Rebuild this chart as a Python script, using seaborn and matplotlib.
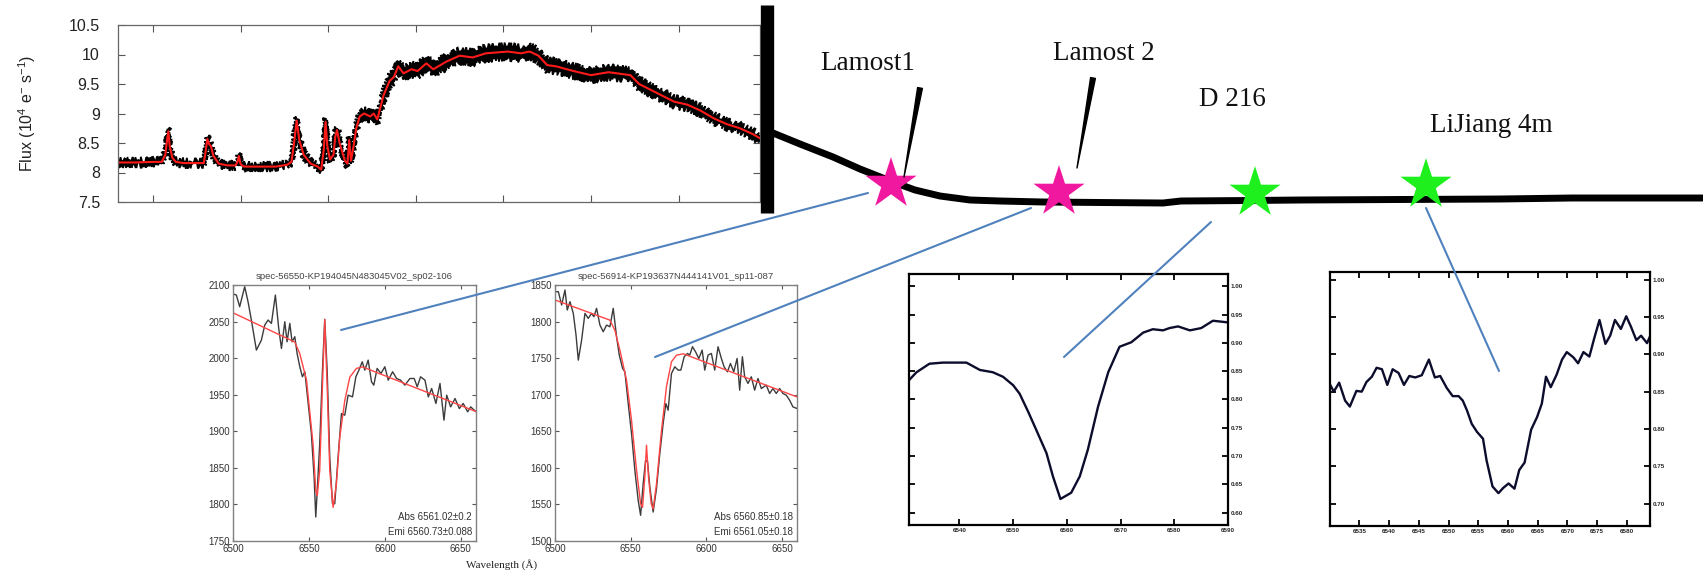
import numpy as np
import pandas as pd
import matplotlib
matplotlib.use("Agg")
import matplotlib.pyplot as plt
import seaborn as sns

# ---------------------------------------------------------------- data
# Light curve (time in days, flux in 1e4 e-/s)
lc_time = [0.00, 0.20, 0.40, 0.50, 0.54, 0.56, 0.575, 0.59, 0.62, 0.66, 0.75, 0.90, 0.98, 1.00, 1.02,
           1.04, 1.06, 1.09, 1.15, 1.25, 1.34, 1.365, 1.38, 1.40, 1.44, 1.60, 1.80, 1.93, 1.98, 2.01,
           2.04, 2.07, 2.12, 2.20, 2.28, 2.32, 2.35, 2.37, 2.39, 2.42, 2.46, 2.48, 2.50, 2.53, 2.56,
           2.59, 2.62, 2.64, 2.66, 2.69, 2.72, 2.76, 2.81, 2.88, 2.92, 2.96, 3.03, 3.10, 3.15, 3.20,
           3.26, 3.35, 3.42, 3.52, 3.60, 3.75, 3.90, 4.05, 4.20, 4.45, 4.60, 4.70, 4.80, 4.90, 5.00,
           5.20, 5.40, 5.60, 5.85, 5.95, 6.15, 6.35, 6.50, 6.65, 6.80, 6.95, 7.10, 7.25, 7.33]
lc_flux = [8.17, 8.17, 8.18, 8.18, 8.30, 8.55, 8.70, 8.45, 8.25, 8.18, 8.16, 8.16, 8.16, 8.35, 8.57,
           8.48, 8.45, 8.28, 8.15, 8.12, 8.12, 8.18, 8.28, 8.14, 8.10, 8.10, 8.10, 8.13, 8.18, 8.50,
           8.88, 8.55, 8.30, 8.15, 8.10, 8.05, 8.40, 8.86, 8.45, 8.22, 8.30, 8.60, 8.72, 8.50, 8.35,
           8.20, 8.15, 8.55, 8.20, 8.45, 8.75, 8.95, 9.00, 8.95, 9.00, 8.90, 9.30, 9.55, 9.62, 9.80,
           9.68, 9.75, 9.72, 9.85, 9.75, 9.88, 9.98, 9.95, 10.02, 10.05, 10.02, 10.05, 9.98, 9.82, 9.80,
           9.72, 9.65, 9.70, 9.65, 9.50, 9.35, 9.20, 9.15, 9.05, 8.92, 8.82, 8.75, 8.65, 8.58]
lc_xticks = [0.4, 1.4, 2.4, 3.4, 4.4, 5.4, 6.4]
lc_yticks = [7.5, 8, 8.5, 9, 9.5, 10, 10.5]
lc_yticklabels = ["7.5", "8", "8.5", "9", "9.5", "10", "10.5"]

# LAMOST spectrum 1: observed and two-component (Abs + Emi) fit
l1_wl = [6500, 6502.2, 6504.4, 6507.7, 6509.9, 6512.1, 6515.4, 6518.7, 6520.9, 6523.1, 6525.3, 6527.9,
         6530.1, 6531.9, 6534.1, 6535.6, 6537.4, 6538.9, 6540.7, 6542.2, 6544.0, 6545.7, 6547.3, 6549.5,
         6551.6, 6553.4, 6554.5, 6555.6, 6557.1, 6558.9, 6560.4, 6562.0, 6563.7, 6565.5, 6567.0, 6569.2,
         6571.4, 6573.6, 6575.8, 6578.7, 6580.9, 6582.9, 6585.1, 6586.8, 6589.0, 6591.2, 6592.7, 6594.9,
         6597.4, 6600.0, 6602.2, 6605.1, 6607.7, 6610.3, 6613.2, 6616.5, 6619.3, 6621.3, 6623.5, 6626.4,
         6628.6, 6630.8, 6633.6, 6636.3, 6638.9, 6640.7, 6643.3, 6646.2, 6649.0, 6651.6, 6654.5, 6656.5,
         6660]
l1_fl = [2087.7, 2086.3, 2070.3, 2097.7, 2077.2, 2052.1, 2011.0, 2024.7, 2045.2, 2052.1, 2047.5, 2086.3,
         2040.7, 2013.3, 2049.8, 2022.4, 2047.5, 2022.4, 2029.3, 2006.4, 1988.2, 1974.5, 1981.4, 1938.0,
         1896.9, 1837.6, 1782.8, 1823.9, 1883.2, 1983.6, 2053.0, 1983.6, 1864.9, 1801.0, 1801.0, 1864.9,
         1924.3, 1922.0, 1949.4, 1947.1, 1974.5, 1983.6, 1995.0, 1983.6, 1997.3, 1967.6, 1963.1, 1985.9,
         1979.1, 1988.2, 1969.9, 1981.4, 1972.2, 1969.9, 1963.1, 1972.2, 1972.2, 1960.8, 1974.5, 1969.9,
         1947.1, 1958.5, 1938.0, 1965.4, 1915.2, 1949.4, 1933.4, 1944.8, 1931.1, 1938.0, 1926.6, 1933.4,
         1926.6]
l1_fit_wl = [6500, 6540.7, 6544.0, 6548.4, 6552.7, 6554.5, 6555.5, 6557.1, 6558.9, 6560.4, 6562.0,
             6563.7, 6565.9, 6568.1, 6570.3, 6573.6, 6576.9, 6581.3, 6585.3, 6660]
l1_fit_fl = [2062, 2022, 2006, 1970, 1883, 1819, 1812, 1847, 1961, 2053, 1961,
             1847, 1796, 1828, 1892, 1942, 1974, 1986, 1988, 1927]

# LAMOST spectrum 2
l2_wl = [6500, 6502.2, 6504.4, 6506.6, 6508.1, 6509.9, 6512.1, 6513.9, 6515.4, 6517.6, 6519.8, 6522.0,
         6524.2, 6525.7, 6527.5, 6529.7, 6531.9, 6534.1, 6536.3, 6538.5, 6540.7, 6542.5, 6544.7, 6546.2,
         6548.4, 6550.6, 6552.8, 6555.0, 6556.6, 6558.3, 6559.9, 6561.2, 6562.7, 6564.9, 6567.1, 6569.3,
         6571.5, 6573.3, 6574.8, 6577.0, 6579.2, 6581.4, 6583.2, 6585.4, 6587.6, 6589.1, 6590.9, 6592.9,
         6595.1, 6597.3, 6599.0, 6601.2, 6603.4, 6605.6, 6607.8, 6610.0, 6611.8, 6614.0, 6616.0, 6618.2,
         6620.4, 6622.1, 6623.9, 6625.4, 6627.6, 6629.8, 6632.0, 6634.2, 6636.4, 6639.7, 6641.9, 6644.1,
         6646.3, 6648.5, 6650.7, 6652.9, 6655.1, 6657.3, 6660]
l2_fl = [1840.9, 1840.9, 1822.6, 1843.2, 1815.8, 1827.2, 1811.2, 1781.5, 1747.3, 1774.7, 1811.2, 1804.4,
         1811.2, 1806.6, 1818.1, 1795.2, 1786.1, 1795.2, 1792.9, 1818.1, 1779.3, 1754.2, 1735.9, 1731.3,
         1688.0, 1646.9, 1596.7, 1555.6, 1535.1, 1578.4, 1610.4, 1608.1, 1573.9, 1539.6, 1571.6, 1619.5,
         1660.6, 1688.0, 1678.8, 1729.0, 1738.2, 1733.6, 1733.6, 1751.9, 1756.4, 1754.2, 1765.6, 1758.7,
         1749.6, 1761.0, 1733.6, 1754.2, 1756.4, 1733.6, 1765.6, 1749.6, 1738.2, 1731.3, 1742.7, 1731.3,
         1749.6, 1706.2, 1751.9, 1724.5, 1715.4, 1724.5, 1706.2, 1722.2, 1708.5, 1713.1, 1701.7, 1708.5,
         1701.7, 1708.5, 1701.7, 1699.4, 1692.5, 1683.4, 1681.1]
l2_fit_wl = [6500, 6536.3, 6539.6, 6542.9, 6547.3, 6550.6, 6553.9, 6556.6, 6557.9, 6559.4, 6560.5,
             6561.8, 6563.6, 6564.9, 6567.1, 6570.4, 6573.7, 6577.0, 6580.3, 6584.7, 6660]
l2_fit_fl = [1829.5, 1802, 1788, 1761, 1720, 1665, 1597, 1551, 1546, 1588, 1631,
             1588, 1551, 1544, 1578, 1651, 1711, 1745, 1754, 1756, 1697]

spec_titles = ["spec-56550-KP194045N483045V02_sp02-106", "spec-56914-KP193637N444141V01_sp11-087"]
abs_labels = ["Abs 6561.02\u00b10.2", "Abs 6560.85\u00b10.18"]
emi_labels = ["Emi 6560.73\u00b10.088", "Emi 6561.05\u00b10.18"]

# D216 spectrum (normalised flux)
d216_wl = [6530.6, 6532.0, 6534.4, 6536.9, 6540.0, 6541.3, 6543.8, 6546.2, 6548.1, 6550.0, 6551.2,
           6552.8, 6554.3, 6556.2, 6557.4, 6558.8, 6560.8, 6562.4, 6563.9, 6565.8, 6567.7, 6569.8,
           6572.0, 6574.2, 6576.0, 6577.9, 6579.1, 6580.7, 6582.9, 6585.0, 6587.2, 6589.1, 6590.0]
d216_fl = [0.834, 0.848, 0.863, 0.865, 0.865, 0.865, 0.852, 0.848, 0.840, 0.825, 0.810,
           0.778, 0.746, 0.705, 0.664, 0.624, 0.635, 0.664, 0.711, 0.787, 0.848, 0.893,
           0.901, 0.918, 0.924, 0.922, 0.926, 0.929, 0.922, 0.926, 0.939, 0.937, 0.936]
d216_xticks = [6540, 6550, 6560, 6570, 6580, 6590]
d216_yticks = [0.60, 0.65, 0.70, 0.75, 0.80, 0.85, 0.90, 0.95, 1.00]

# LiJiang spectrum (normalised flux)
lj_wl = [6530.1, 6530.7, 6531.6, 6532.6, 6533.4, 6534.5, 6535.4, 6536.2, 6537.1, 6537.9, 6538.8,
         6539.7, 6540.6, 6541.6, 6542.5, 6543.4, 6544.4, 6545.5, 6546.7, 6547.7, 6548.6, 6549.7,
         6550.7, 6551.7, 6552.4, 6553.1, 6553.9, 6554.8, 6555.8, 6556.4, 6557.4, 6558.4, 6559.2,
         6560.1, 6561.1, 6561.9, 6562.8, 6563.9, 6564.9, 6565.7, 6566.4, 6567.2, 6568.2, 6569.1,
         6569.9, 6571.0, 6571.8, 6572.7, 6573.7, 6574.5, 6575.4, 6576.4, 6577.2, 6578.0, 6579.0,
         6579.9, 6580.7, 6581.6, 6582.4, 6583.4, 6583.9]
lj_fl = [0.859, 0.850, 0.862, 0.838, 0.830, 0.851, 0.850, 0.863, 0.870, 0.882, 0.880,
         0.859, 0.880, 0.875, 0.859, 0.871, 0.869, 0.872, 0.893, 0.869, 0.871, 0.855,
         0.844, 0.844, 0.838, 0.825, 0.807, 0.796, 0.787, 0.758, 0.723, 0.714, 0.721,
         0.727, 0.720, 0.745, 0.755, 0.799, 0.816, 0.834, 0.870, 0.856, 0.873, 0.893,
         0.903, 0.896, 0.888, 0.903, 0.897, 0.921, 0.946, 0.914, 0.925, 0.946, 0.934,
         0.951, 0.937, 0.919, 0.925, 0.915, 0.924]
lj_xticks = [6535, 6540, 6545, 6550, 6555, 6560, 6565, 6570, 6575, 6580]
lj_yticks = [0.70, 0.75, 0.80, 0.85, 0.90, 0.95, 1.00]

# Schematic brightness decline after the outburst, with the observing epochs
trend_x = [773, 800, 833, 860, 893, 915, 940, 970, 1000, 1043, 1100, 1163, 1181, 1250, 1301, 1400,
           1500, 1572, 1703]
trend_y = [133, 144, 157, 169, 182, 190, 196, 200, 201, 202, 202.5, 203, 201, 200.5, 200, 199.5,
           199, 198, 198]
site_names = ["Lamost1", "Lamost 2", "D 216", "LiJiang 4m"]
site_kind = ["LAMOST", "LAMOST", "other", "other"]
site_x = [891, 1059, 1255, 1426]
site_y = [184, 192, 193, 185]

# ---------------------------------------------------------------- layout helpers
W, H = 1703, 572
sns.set_style("ticks")
plt.rcParams["font.family"] = ["Liberation Sans", "DejaVu Sans"]
plt.rcParams["mathtext.fontset"] = "custom"
plt.rcParams["mathtext.rm"] = "Liberation Sans"
plt.rcParams["mathtext.it"] = "Liberation Sans:italic"

fig = plt.figure(figsize=(W / 100, H / 100), dpi=100)


def box(left, top, right, bottom):
    return [left / W, 1 - bottom / H, (right - left) / W, (bottom - top) / H]


# ---------------------------------------------------------------- light curve
ax0 = fig.add_axes(box(118, 25, 760, 202))
t = np.asarray(lc_time)
flux = np.asarray(lc_flux)
spread = np.interp(flux, [8.1, 10.05], [0.04, 0.11])
band = ax0.fill(np.r_[t, t[::-1]], np.r_[flux - spread, (flux + spread)[::-1]],
                color="black", lw=1.2, edgecolor="black")[0]
band.set_sketch_params(scale=3.0, length=2.0, randomness=3.0)
sns.lineplot(x=lc_time, y=lc_flux, ax=ax0, color="#ff1a1a", linewidth=1.5, estimator=None)
ax0.set_xlim(0, 7.33)
ax0.set_ylim(7.5, 10.5)
ax0.set_xticks(lc_xticks)
ax0.set_xticklabels([])
ax0.set_yticks(lc_yticks)
ax0.set_yticklabels(lc_yticklabels)
ax0.tick_params(direction="in", top=True, right=True, length=5, width=0.8, labelsize=11.5,
                labelcolor="#222222", pad=13, color="#555555")
for sp in ax0.spines.values():
    sp.set_color("#666666")
    sp.set_linewidth(0.9)
ax0.set_ylabel("Flux (10$^4$ e$^{-}$ s$^{-1}$)", fontsize=11.5, color="#222222")
ax0.yaxis.set_label_coords((38 - 118) / 642, 0.5)


# ---------------------------------------------------------------- LAMOST fits
def fit_panel(ax, wl, fl, fwl, ffl, ylim, title, abs_txt, emi_txt):
    sns.lineplot(x=wl, y=fl, ax=ax, color="#3c3c3c", linewidth=1.0, estimator=None)
    sns.lineplot(x=fwl, y=ffl, ax=ax, color="#ff4545", linewidth=1.0, estimator=None)
    ax.set_xlim(6500, 6660)
    ax.set_ylim(*ylim)
    ax.set_xticks([6500, 6550, 6600, 6650])
    ax.set_yticks(np.arange(ylim[0], ylim[1] + 1, 50))
    ax.tick_params(direction="in", top=True, right=True, length=3, width=0.8, labelsize=7,
                   labelcolor="#333333", color="#555555", pad=2)
    for sp in ax.spines.values():
        sp.set_color("#808080")
        sp.set_linewidth(1.0)
    ax.set_title(title, fontsize=6.8, color="#444444", pad=4)
    ax.text(0.984, 0.094, abs_txt, transform=ax.transAxes, ha="right", va="center",
            fontsize=7, color="#333333")
    ax.text(0.984, 0.035, emi_txt, transform=ax.transAxes, ha="right", va="center",
            fontsize=7, color="#333333")
    ax.set_xlabel("")
    ax.set_ylabel("")


axA = fig.add_axes(box(233, 285, 476, 541))
fit_panel(axA, l1_wl, l1_fl, l1_fit_wl, l1_fit_fl, (1750, 2100), spec_titles[0], abs_labels[0], emi_labels[0])
axB = fig.add_axes(box(555, 285, 797, 541))
fit_panel(axB, l2_wl, l2_fl, l2_fit_wl, l2_fit_fl, (1500, 1850), spec_titles[1], abs_labels[1], emi_labels[1])
fig.text(502 / W, 1 - 565 / H, "Wavelength (\u00c5)", ha="center", va="center",
         fontsize=8, family="Liberation Serif", color="#222222")


# ---------------------------------------------------------------- D216 / LiJiang spectra
def obs_panel(ax, wl, fl, xlim, xticks, ylim, yticks):
    sns.lineplot(x=wl, y=fl, ax=ax, color="#0c0c2c", linewidth=1.7, estimator=None)
    ax.set_xlim(*xlim)
    ax.set_ylim(*ylim)
    ax.set_xticks(xticks)
    ax.set_yticks(yticks)
    ax.set_xticklabels([f"{v}" for v in xticks], fontweight="bold")
    ax.set_yticklabels([f"{v:.2f}" for v in yticks], fontweight="bold")
    ax.tick_params(direction="in", top=True, right=True, labelleft=False, labelright=True,
                   length=4, width=1.3, labelsize=4.5, pad=2, color="black")
    for sp in ax.spines.values():
        sp.set_color("black")
        sp.set_linewidth(1.6)
    ax.set_xlabel("")
    ax.set_ylabel("")


axC = fig.add_axes(box(909, 274, 1228, 525))
obs_panel(axC, d216_wl, d216_fl, (6530.6, 6590.0), d216_xticks, (0.578, 1.0216), d216_yticks)
axD = fig.add_axes(box(1330, 272, 1650, 526))
obs_panel(axD, lj_wl, lj_fl, (6530.06, 6583.9), lj_xticks, (0.670, 1.0103), lj_yticks)

# ---------------------------------------------------------------- schematic overlay
ov = fig.add_axes([0, 0, 1, 1], zorder=10)
ov.set_xlim(0, W)
ov.set_ylim(H, 0)
ov.axis("off")
ov.patch.set_alpha(0)

# separator bar at the end of the light curve
ov.plot([766.5, 766.5], [5, 213], color="black", lw=9.6, solid_capstyle="butt")
sns.lineplot(x=trend_x, y=trend_y, ax=ov, color="black", linewidth=5.0, estimator=None, sort=False)

# links from each epoch to its spectrum
links = [((868, 193), (341, 330)), ((1031, 208), (655, 357)),
         ((1211, 222), (1064, 357)), ((1426, 208), (1499, 371))]
for (x0, y0), (x1, y1) in links:
    ov.plot([x0, x1], [y0, y1], color="#4f81bd", lw=1.5, zorder=3)

stars = pd.DataFrame({"x": site_x, "y": site_y, "kind": site_kind})
sns.scatterplot(data=stars, x="x", y="y", hue="kind", palette={"LAMOST": "#f0189e", "other": "#1ef01e"},
                marker="*", s=1500, linewidth=0, legend=False, ax=ov, zorder=5)

# pointers from the LAMOST labels
for (tx, ty), (hx, hy) in [((920, 88), (904, 177)), ((1093, 78), (1077, 168))]:
    ov.annotate("", xy=(hx, hy), xytext=(tx, ty),
                arrowprops=dict(arrowstyle="wedge,tail_width=0.35,shrink_factor=0.5", color="black",
                                shrinkA=0, shrinkB=0), zorder=6)

label_pos = [(868, 63), (1104, 54), (1232, 100), (1491, 125)]
for name, (lx, ly) in zip(site_names, label_pos):
    ov.text(lx, ly, name, ha="center", va="center", fontsize=19.5, family="Liberation Serif",
            color="#111111")
ov.set_xlim(0, W)
ov.set_ylim(H, 0)

fig.savefig("out.png", dpi=100)
